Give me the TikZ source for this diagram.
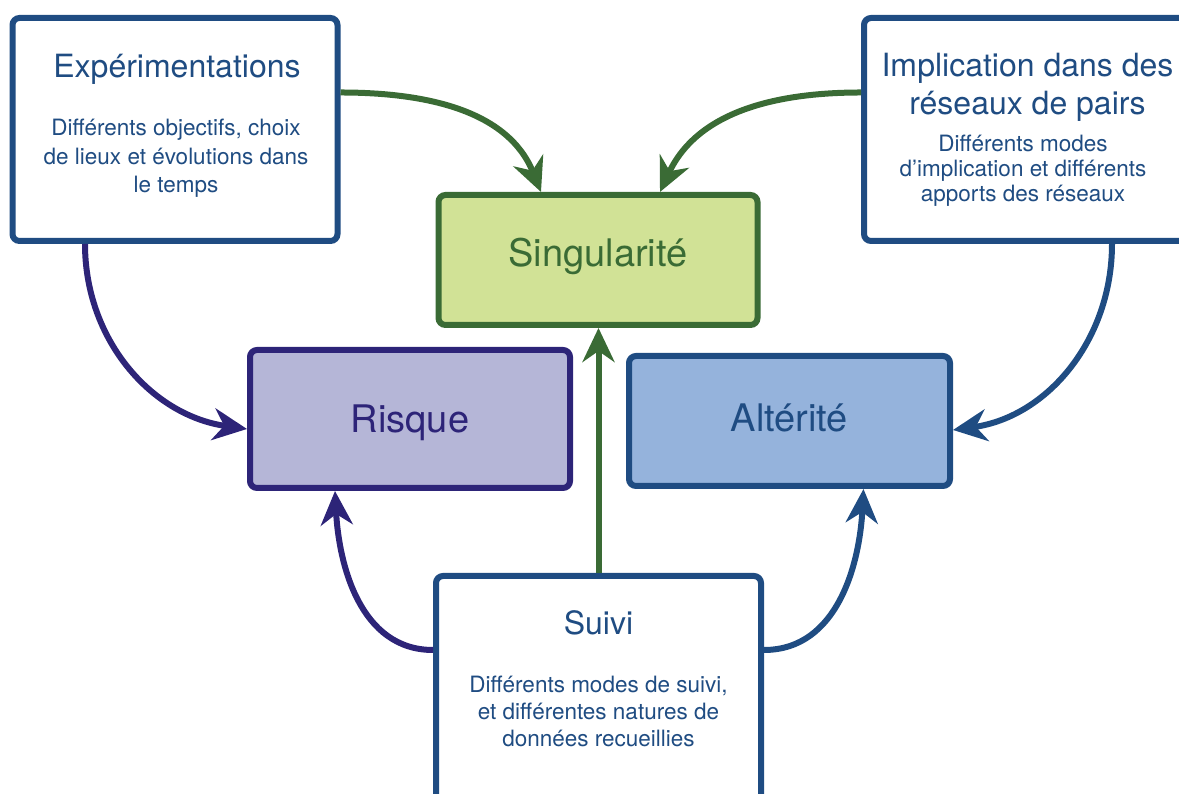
\documentclass[tikz,border=0pt]{standalone}
\usepackage{fontspec}
\setmainfont{TeX Gyre Heros}
\usetikzlibrary{arrows.meta,positioning}
\definecolor{bleu}{HTML}{1F4C82}
\definecolor{bleuclair}{HTML}{95B3DC}
\definecolor{vert}{HTML}{3A6B35}
\definecolor{vertclair}{HTML}{D1E296}
\definecolor{pourpre}{HTML}{2D2478}
\definecolor{pourpreclair}{HTML}{B5B6D7}

\begin{document}
\begin{tikzpicture}[x=1pt,y=1pt,>={Stealth[length=34pt,width=32pt,inset=11pt]},
	boite/.style={draw, line width=6pt, rounded corners=7pt, inner sep=0pt},
	blanche/.style={boite, draw=bleu, fill=white, minimum width=325pt, minimum height=223pt},
	centre/.style={boite, minimum height=130pt, font=\fontsize{38}{44}\selectfont, text height=27pt, text depth=0pt},
	titre/.style={text=bleu, font=\fontsize{32}{38}\selectfont, align=center, anchor=base},
	detail/.style={text=bleu, font=\fontsize{22.5}{27}\selectfont, align=center, anchor=base},
	fleche/.style={->, line width=6pt}]
	%\draw [help lines] (0,0) grid [step=50] (1179,794);
	\useasboundingbox (0,0) rectangle (1179,794);
	\clip (0,0) rectangle (1179,794);
	% boites
	\node [blanche] (exp) at (175,664.5) {};
	\node [blanche] (impl) at (1026.5,664.5) {};
	\node [blanche, minimum height=254pt] (suivi) at (598.5,91) {};
	\node [centre, draw=vert, fill=vertclair, text=vert, minimum width=319pt, text depth=13pt] (sing) at (598,534) {Singularité};
	\node [centre, draw=pourpre, fill=pourpreclair, text=pourpre, minimum width=320pt, minimum height=138pt] (risque) at (410,375) {Risque};
	\node [centre, draw=bleu, fill=bleuclair, text=bleu, minimum width=321pt, text depth=5pt] (alter) at (789.5,373) {Altérité};
	% textes (base = derniere ligne)
	\node [titre] (exptitre) at (177,716) {Expérimentations};
	\node [detail, font=\fontsize{22.5}{28.5}\selectfont] (expdetail) at (176,601) {Différents objectifs, choix\\de lieux et évolutions dans\\le temps};
	\node [titre] (impltitre) at (1027.5,679) {Implication dans des\\réseaux de pairs};
	\node [detail, font=\fontsize{22.5}{25}\selectfont] (impldetail) at (1023,592) {Différents modes\\d’implication et différents\\apports des réseaux};
	\node [titre] (suivititre) at (598.5,159) {Suivi};
	\node [detail] (suividetail) at (598.5,47) {Différents modes de suivi,\\et différentes natures de\\données recueillies};
	% fleches
	\draw [fleche, vert] ([yshift=37pt]exp.east) to [out=0, in=112] ([xshift=-57pt]sing.north);
	\draw [fleche, vert] ([yshift=37pt]impl.west) to [out=180, in=65] ([xshift=62pt]sing.north);
	\draw [fleche, vert] (suivi.north) -- (suivi.north |- sing.south);
	\draw [fleche, pourpre] ([xshift=-90pt]exp.south) to [out=-90, in=172] ([yshift=-10pt]risque.west);
	\draw [fleche, pourpre] ([yshift=53pt]suivi.west) to [out=180, in=-87] ([xshift=-75pt]risque.south);
	\draw [fleche, bleu] ([xshift=85.5pt]impl.south) to [out=-90, in=8] ([yshift=-9pt]alter.east);
	\draw [fleche, bleu] ([yshift=53pt]suivi.east) to [out=0, in=-93] ([xshift=74pt]alter.south);
\end{tikzpicture}
\end{document}
